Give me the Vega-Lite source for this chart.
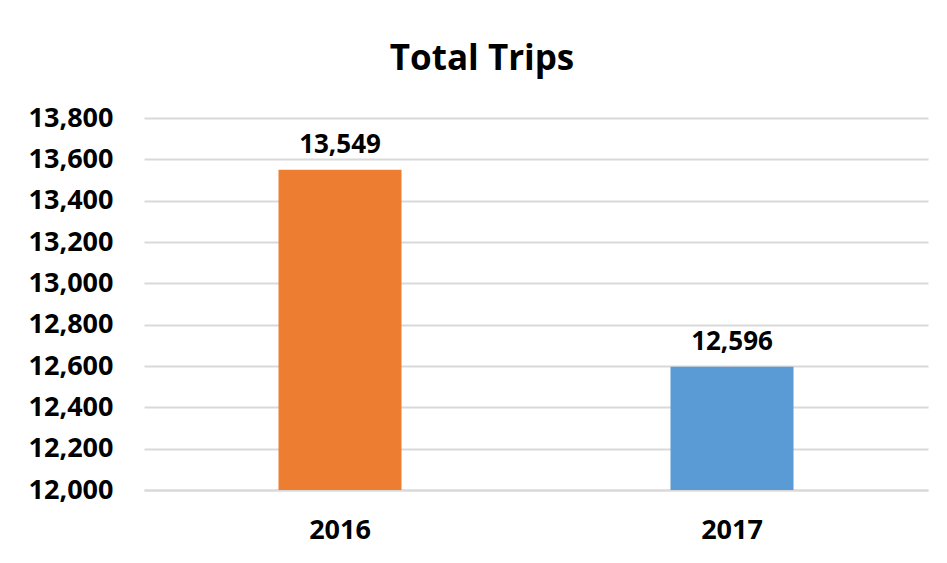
{
  "$schema": "https://vega.github.io/schema/vega-lite/v6.json",
  "autosize": "none",
  "width": 784,
  "height": 372,
  "padding": {"left": 144, "top": 118, "right": 19, "bottom": 73},
  "background": "white",
  "title": {"text": "Total Trips", "fontSize": 35, "font": "Open Sans", "fontWeight": "bold", "color": "#000000", "anchor": "middle", "offset": 27, "frame": "bounds", "dx": 4},
  "data": {"values": [
    {"year": "2016", "trips": 13549, "label": "13,549"},
    {"year": "2017", "trips": 12596, "label": "12,596"}
  ]},
  "config": {
    "view": {"stroke": null},
    "font": "Open Sans"
  },
  "encoding": {
    "x": {"field": "year", "type": "nominal",
      "scale": {"paddingInner": 0, "paddingOuter": 0},
      "axis": {"title": null, "labelAngle": 0, "labelFontSize": 27, "labelFontWeight": "bold", "labelColor": "#000000", "labelPadding": 27, "ticks": false, "domainColor": "#d9d9d9", "domainWidth": 2, "grid": false}},
    "y": {"field": "trips", "type": "quantitative",
      "scale": {"domain": [12000, 13800], "zero": false, "clamp": true, "nice": false},
      "axis": {"title": null, "values": [12000, 12200, 12400, 12600, 12800, 13000, 13200, 13400, 13600, 13800], "format": ",d", "labelFontSize": 27, "labelFontWeight": "bold", "labelColor": "#000000", "labelPadding": 31, "ticks": false, "domain": false, "gridColor": "#d9d9d9", "gridWidth": 2}}
  },
  "layer": [
    {"mark": {"type": "bar", "size": 123},
     "encoding": {"color": {"field": "year", "type": "nominal", "scale": {"domain": ["2016", "2017"], "range": ["#ED7D31", "#5B9BD5"]}, "legend": null}}},
    {"mark": {"type": "text", "baseline": "bottom", "dy": -12, "fontSize": 26, "fontWeight": "bold", "color": "#000000"},
     "encoding": {"text": {"field": "label", "type": "nominal"}}}
  ]
}
